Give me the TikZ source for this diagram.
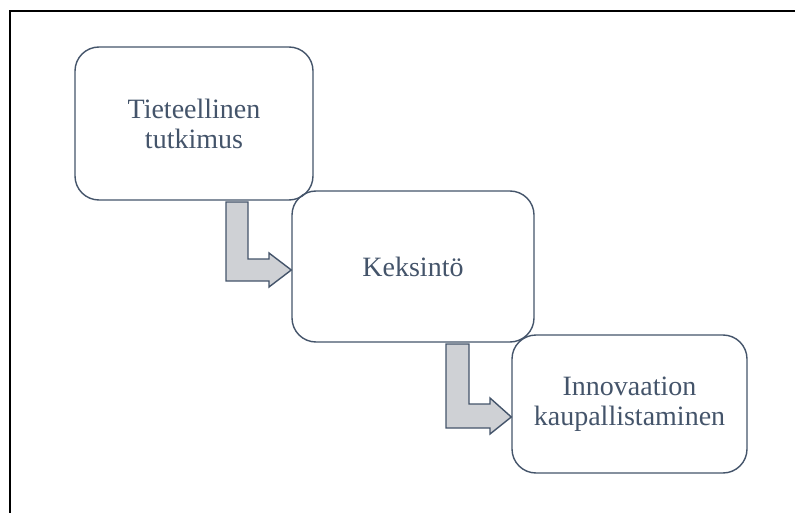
\documentclass[tikz,border=0pt]{standalone}
\usepackage{fontspec}
\setmainfont{Liberation Serif}
\definecolor{slate}{HTML}{44546A}
\definecolor{arrowfill}{HTML}{CFD1D5}
\begin{document}
\begin{tikzpicture}[x=1pt,y=-1pt,
  stagebox/.style={draw=slate, line width=1.4pt, rounded corners=24pt,
    text=slate, align=center, font=\fontsize{28}{30}\selectfont, inner sep=0pt},
  bentarrow/.style={draw=slate, fill=arrowfill, line width=1.4pt, line join=miter}]
\useasboundingbox (0,0) rectangle (795,513);
\draw[line width=2pt, black] (10,513) -- (10,11) -- (795,11);
\node[stagebox, minimum width=238pt, minimum height=153pt] (b1) at (194,123.5) {Tieteellinen\\tutkimus};
\node[stagebox, minimum width=242pt, minimum height=151pt] (b2) at (413,266.5) {Keksintö};
\node[stagebox, minimum width=235pt, minimum height=138pt] (b3) at (629.5,404) {Innovaation\\kaupallistaminen};
\draw[bentarrow] (226,202) -- (248,202) -- (248,259) -- (269,259) -- (269,253) -- (b2.west |- 0,270) -- (269,287) -- (269,281) -- (226,281) -- cycle;
\draw[bentarrow] (446,344) -- (469,344) -- (469,404) -- (490,404) -- (490,398) -- (b3.west |- 0,417) -- (490,434) -- (490,428) -- (446,428) -- cycle;
\end{tikzpicture}
\end{document}
